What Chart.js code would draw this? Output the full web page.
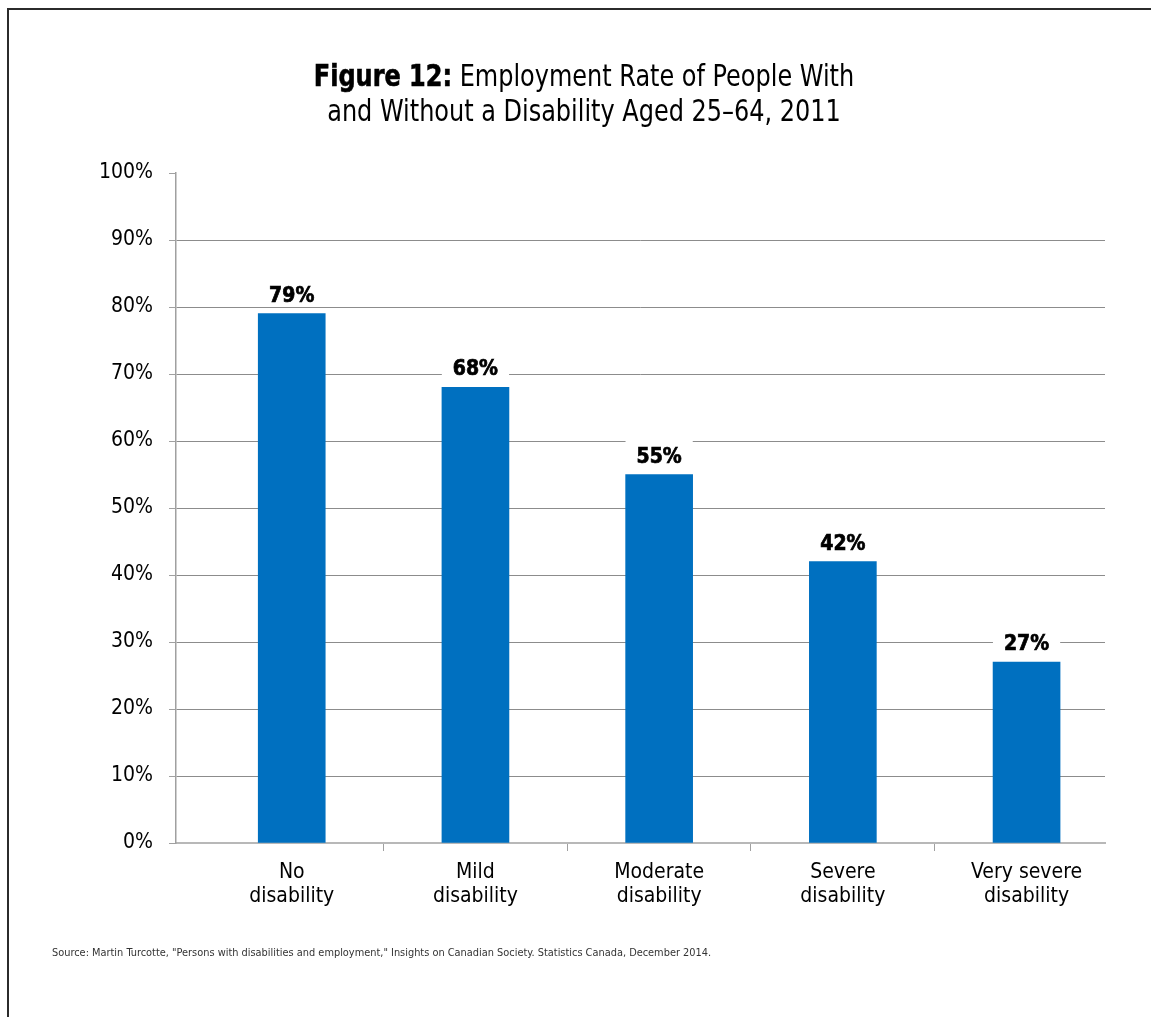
<!DOCTYPE html>
<html>
<head>
<meta charset="utf-8">
<title>Employment Rate of People With and Without a Disability</title>
<script src="https://cdn.jsdelivr.net/npm/chart.js@4.4.1/dist/chart.umd.min.js"></script>
<style>
  html, body { margin: 0; padding: 0; background: #fff; }
  #wrap { position: relative; width: 1151px; height: 1017px; overflow: hidden; }
  #frame {
    position: absolute; left: 7px; top: 8px; width: 1300px; height: 1200px;
    border-top: 2px solid #2b2b2b; border-left: 2px solid #2b2b2b;
  }
  #chart { position: absolute; left: 0; top: 0; }
  #title {
    position: absolute; left: 0; top: 58px; width: 1168px; text-align: center;
    font-family: 'Liberation Sans Narrow', 'DejaVu Sans Condensed', 'Liberation Sans', sans-serif;
    font-stretch: condensed; font-size: 31px; line-height: 35px; color: #000;
    transform: scaleX(0.86); transform-origin: 584px 0;
  }
  #title b { font-weight: 900; -webkit-text-stroke: 0.6px #000; }
  #source {
    position: absolute; left: 52px; top: 946px;
    font-family: 'Liberation Sans Narrow', 'DejaVu Sans Condensed', 'Liberation Sans', sans-serif;
    font-stretch: condensed; font-size: 10.9px; color: #333;
  }
</style>
</head>
<body>
<div id="wrap">
  <div id="frame"></div>
  <canvas id="chart" width="1151" height="1017"></canvas>
  <div id="title"><b>Figure 12:</b> Employment Rate of People With<br>and Without a Disability Aged 25–64, 2011</div>
  <div id="source">Source: Martin Turcotte, "Persons with disabilities and employment," Insights on Canadian Society. Statistics Canada, December 2014.</div>
</div>
<script>
// employment rate (%) by disability severity, ages 25-64, 2011
const categories = [
  ['No', 'disability'],
  ['Mild', 'disability'],
  ['Moderate', 'disability'],
  ['Severe', 'disability'],
  ['Very severe', 'disability']
];
const rates = [79, 68, 55, 42, 27];
const yTicks = [0, 10, 20, 30, 40, 50, 60, 70, 80, 90, 100];

const FAMILY = "'Liberation Sans Narrow', 'DejaVu Sans Condensed', 'Liberation Sans', sans-serif";
const BAR_BLUE = '#0070c0';
const GRID_GREY = '#8c8c8c';

// value labels above each bar, on a white patch so gridlines stop short of the text
const barLabels = {
  id: 'barLabels',
  afterDatasetsDraw(chart) {
    const ctx = chart.ctx;
    const meta = chart.getDatasetMeta(0);
    ctx.save();
    ctx.font = 'bold 21px ' + FAMILY;
    ctx.textAlign = 'center';
    ctx.textBaseline = 'alphabetic';
    ctx.lineWidth = 0.7;
    ctx.strokeStyle = '#000';
    meta.data.forEach((bar, i) => {
      const text = rates[i] + '%';
      const w = ctx.measureText(text).width;
      ctx.fillStyle = '#fff';
      ctx.fillRect(bar.x - w / 2 - 11, bar.y - 34, w + 22, 27);
      ctx.fillStyle = '#000';
      ctx.fillText(text, bar.x, bar.y - 12);
      ctx.strokeText(text, bar.x, bar.y - 12);
    });
    ctx.restore();
  }
};

new Chart(document.getElementById('chart'), {
  type: 'bar',
  data: {
    datasets: [{
      data: rates.map((v, i) => ({ x: i, y: v })),
      backgroundColor: BAR_BLUE,
      borderWidth: 0,
      barThickness: 67
    }]
  },
  options: {
    responsive: false,
    animation: false,
    layout: { padding: { top: 173, right: 46, bottom: 0, left: 0 } },
    plugins: {
      legend: { display: false },
      tooltip: { enabled: false }
    },
    scales: {
      x: {
        type: 'linear',
        min: -0.63,
        max: 4.427,
        offset: false,
        afterBuildTicks: s => { s.ticks = categories.map((_, i) => ({ value: i })); },
        afterFit: s => { s.height = 174; },
        ticks: {
          callback: v => categories[v],
          autoSkip: false,
          maxRotation: 0,
          padding: 9,
          color: '#000',
          font: { family: FAMILY, size: 21, lineHeight: 1.15 }
        },
        grid: {
          offset: true,
          drawOnChartArea: false,
          tickLength: 8,
          color: c => c.index === 0 ? 'rgba(0,0,0,0)' : '#a0a0a0'
        },
        border: { color: '#b8b8b8', width: 2 }
      },
      y: {
        min: 0,
        max: 100,
        afterBuildTicks: s => { s.ticks = yTicks.map(v => ({ value: v })); },
        afterFit: s => { s.width = 176; },
        ticks: {
          callback: v => v + '%',
          padding: 16,
          color: '#000',
          font: { family: FAMILY, size: 21 }
        },
        grid: {
          color: c => (c.tick && c.tick.value === 100) ? 'rgba(0,0,0,0)' : GRID_GREY,
          tickColor: '#a0a0a0',
          tickLength: 7,
          lineWidth: 1
        },
        border: { color: '#a0a0a0', width: 1.5 }
      }
    }
  },
  plugins: [barLabels]
});
</script>
</body>
</html>
